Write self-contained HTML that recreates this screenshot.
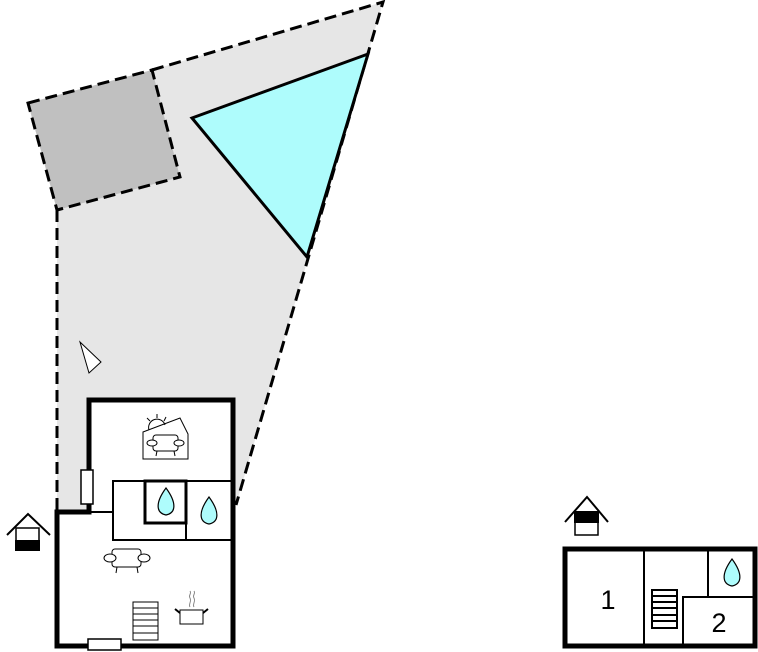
<!DOCTYPE html>
<html><head><style>body{margin:0;background:#fff}svg{display:block}</style></head><body>
<svg width="758" height="652" viewBox="0 0 758 652" xmlns="http://www.w3.org/2000/svg" font-family="Liberation Sans, sans-serif">
<polygon points="28,103 152,70 383,2 236,505 57,512 57,210" fill="#e6e6e6"/>
<polygon points="28,103 152,70 180,177 57,210" fill="#c0c0c0" stroke="#000" stroke-width="3" stroke-dasharray="12,6"/>
<polyline points="152,70 383,2 236,505" fill="none" stroke="#000" stroke-width="3" stroke-dasharray="12,6"/>
<line x1="57" y1="210" x2="57" y2="510" stroke="#000" stroke-width="3" stroke-dasharray="12,6"/>
<polygon points="192,118 368,54 307,257" fill="#aefcfc" stroke="#000" stroke-width="3"/>
<polygon points="80,342 101,362 89,373" fill="#fff" stroke="#000" stroke-width="1"/>
<polygon points="89,400 233,400 233,646 57,646 57,512 89,512" fill="#fff" stroke="#000" stroke-width="5"/>
<rect x="113" y="481" width="120" height="59" fill="none" stroke="#000" stroke-width="2"/>
<line x1="89" y1="512" x2="113" y2="512" stroke="#000" stroke-width="2"/>
<rect x="145" y="481" width="41" height="42" fill="none" stroke="#000" stroke-width="3"/>
<line x1="186" y1="481" x2="186" y2="540" stroke="#000" stroke-width="2"/>
<rect x="81" y="470" width="12" height="34" fill="#fff" stroke="#000" stroke-width="1.5"/>
<rect x="88" y="639" width="33" height="11" fill="#fff" stroke="#000" stroke-width="1.5"/>
<path d="M166,515 c-10,-2 -11,-12 0,-27 c11,15 10,25 0,27z" fill="#aefcfc" stroke="#000" stroke-width="1.2"/>
<path d="M209,524 c-10,-2 -11,-12 0,-27 c11,15 10,25 0,27z" fill="#aefcfc" stroke="#000" stroke-width="1.2"/>
<g stroke="#000" stroke-width="1" fill="none">
<polygon points="143,432 180,418 188,434 188,459 143,459" fill="#fff"/>
<path d="M149,430 a8,8 0 0 1 16,-5"/>
<line x1="157" y1="418" x2="157" y2="414"/><line x1="150" y1="421" x2="147" y2="418"/><line x1="164" y1="421" x2="166" y2="417"/>
<rect x="153" y="435" width="25" height="16" rx="3" fill="#fff"/>
<ellipse cx="152" cy="443" rx="5" ry="3" fill="#fff"/><ellipse cx="179" cy="443" rx="5" ry="3" fill="#fff"/>
<line x1="157" y1="451" x2="156" y2="456"/><line x1="174" y1="451" x2="175" y2="456"/>
<rect x="112" y="549" width="29" height="18" rx="3" fill="#fff"/>
<ellipse cx="110" cy="558" rx="6" ry="4" fill="#fff"/><ellipse cx="144" cy="558" rx="6" ry="4" fill="#fff"/>
<line x1="117" y1="567" x2="116" y2="573"/><line x1="137" y1="567" x2="138" y2="573"/>
<rect x="133" y="602" width="25" height="38" fill="#fff"/>
<path d="M133,608h25M133,614h25M133,620h25M133,626h25M133,633h25"/>
<rect x="180" y="610" width="23" height="14" fill="#fff"/>
<path d="M180,613l-5,-4M203,613l5,-4" stroke-width="2"/>
<path d="M190,607c-2,-3 2,-5 0,-9c-2,-3 2,-4 0,-7M194,607c-2,-3 2,-5 0,-9c-2,-3 2,-4 0,-7" stroke="#888"/>
</g>
<g stroke="#000" stroke-width="2" fill="none">
<polyline points="7,535 28,514 50,535"/>
<rect x="16" y="528" width="23" height="22" fill="#fff" stroke-width="1.5"/>
<rect x="16" y="541" width="23" height="9" fill="#000"/>
<polyline points="565,522 587,497 608,522"/>
<rect x="575" y="512" width="23" height="23" fill="#fff" stroke-width="1.5"/>
<rect x="575" y="512" width="23" height="10" fill="#000"/>
</g>
<rect x="565" y="549" width="190" height="97" fill="#fff" stroke="#000" stroke-width="5"/>
<g stroke="#000" stroke-width="2" fill="none">
<line x1="644" y1="549" x2="644" y2="646"/>
<line x1="708" y1="549" x2="708" y2="597"/>
<polyline points="755,597 683,597 683,646"/>
<rect x="652" y="590" width="25" height="38"/>
<path d="M652,596h25M652,602h25M652,608h25M652,615h25M652,621h25"/>
</g>
<path d="M732,586 c-10,-2 -11,-12 0,-27 c11,15 10,25 0,27z" fill="#aefcfc" stroke="#000" stroke-width="1.2"/>
<text x="608" y="609" font-size="27" text-anchor="middle">1</text>
<text x="719" y="632" font-size="27" text-anchor="middle">2</text>
</svg>
</body></html>
